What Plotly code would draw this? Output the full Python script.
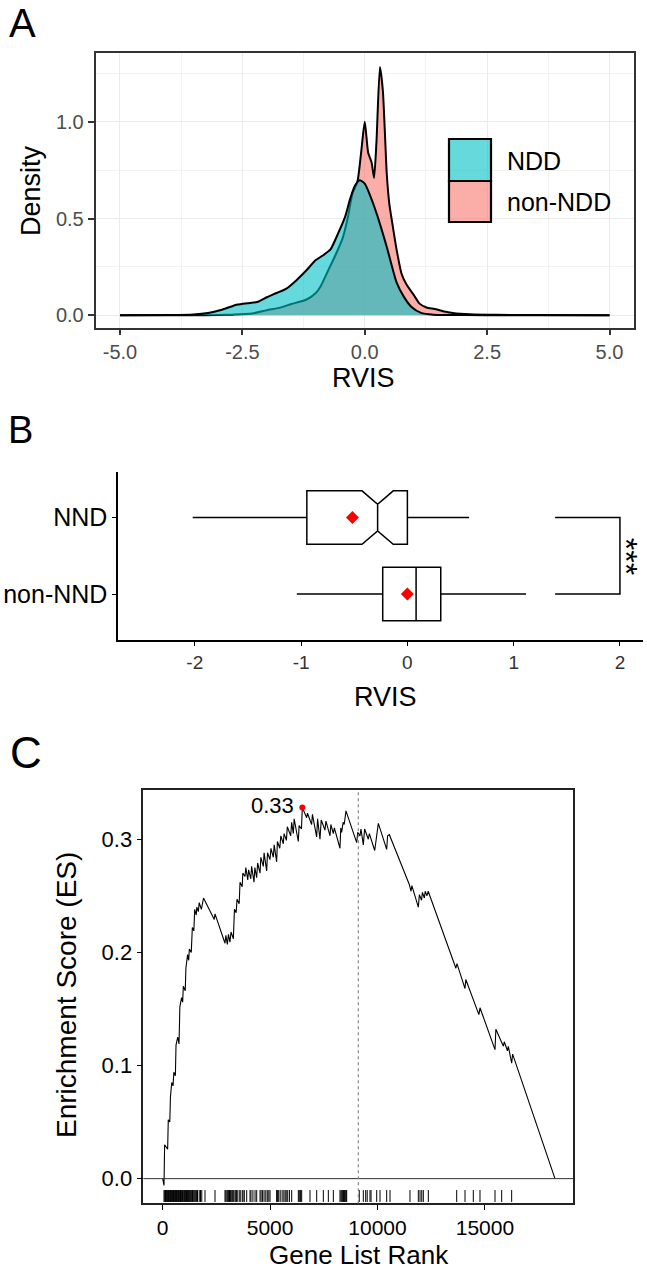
import plotly.graph_objects as go

W, H = 647, 1270
FONT = "Liberation Sans, Arial, Helvetica, sans-serif"

# ---------------- Panel A: density of RVIS ----------------
groups_a = ["NDD", "non-NDD"]
rvis_ndd = [-5.0, -4.0, -3.5, -3.2, -2.9, -2.6, -2.4, -2.2, -2.0, -1.8, -1.6, -1.4, -1.2,
            -1.0, -0.85, -0.7, -0.55, -0.4, -0.3, -0.2, -0.1, 0.0, 0.1, 0.25, 0.45, 0.65,
            0.8, 0.95, 1.15, 1.4, 2.0, 3.0, 4.0, 5.0]
dens_ndd = [0.0, 0.001, 0.004, 0.012, 0.03, 0.055, 0.062, 0.068, 0.093, 0.115, 0.138, 0.18, 0.23,
            0.285, 0.31, 0.34, 0.42, 0.51, 0.60, 0.67, 0.698, 0.68, 0.625, 0.52, 0.353, 0.17,
            0.095, 0.044, 0.012, 0.003, 0.001, 0.0, 0.0, 0.0]
rvis_non = [-5.0, -3.5, -3.0, -2.7, -2.3, -2.0, -1.75, -1.5, -1.2, -1.0, -0.9, -0.75, -0.6,
            -0.45, -0.35, -0.25, -0.15, -0.07, 0.0, 0.07, 0.14, 0.19, 0.24, 0.31, 0.37, 0.45,
            0.5, 0.56, 0.65, 0.75, 0.85, 1.0, 1.12, 1.26, 1.43, 1.6, 1.8, 2.15, 2.7, 3.5, 5.0]
dens_non = [0.0, 0.0, 0.001, 0.003, 0.009, 0.026, 0.038, 0.058, 0.08, 0.115, 0.15, 0.23, 0.31,
            0.40, 0.50, 0.63, 0.69, 0.85, 1.0, 0.84, 0.79, 0.71, 0.90, 1.283, 1.16, 0.73,
            0.58, 0.48, 0.34, 0.216, 0.16, 0.105, 0.06, 0.04, 0.032, 0.021, 0.012, 0.005, 0.002, 0.001, 0.0]
a_xticks = [-5.0, -2.5, 0.0, 2.5, 5.0]
a_xticklabels = ["-5.0", "-2.5", "0.0", "2.5", "5.0"]
a_yticks = [0.0, 0.5, 1.0]
a_yticklabels = ["0.0", "0.5", "1.0"]

# ---------------- Panel B: boxplots ----------------
groups_b = ["NND", "non-NND"]
b_q1 = [-0.946, -0.232]
b_median = [-0.28, 0.082]
b_q3 = [0.0, 0.314]
b_lower = [-2.02, -1.04]
b_upper = [0.58, 1.117]
b_notchspan = [0.147, 0.0]
b_mean = [-0.517, 0.0]
b_bracket_x = [1.39, 2.0]
b_signif = "***"
b_xticks = [-2, -1, 0, 1, 2]
b_xticklabels = ["-2", "-1", "0", "1", "2"]

# ---------------- Panel C: GSEA running enrichment score ----------------
es_rank = [0, 60, 90, 230, 260, 330, 360, 420, 480, 520, 590, 620, 700, 760, 800, 880, 930, 960,
           1050, 1080, 1160, 1210, 1240, 1330, 1380, 1450, 1490, 1560, 1590, 1660, 1700, 1800,
           1900, 2400, 2435, 2900, 2940, 3010, 3060, 3130, 3180, 3290, 3340, 3420, 3460, 3560,
           3600, 3700, 3730, 3831, 3870, 3960, 4000, 4100, 4140, 4250, 4290, 4374, 4420, 4530,
           4570, 4685, 4720, 4840, 4880, 4995, 5040, 5150, 5190, 5305, 5340, 5450, 5500, 5616,
           5650, 5760, 5800, 5960, 6003, 6081, 6120, 6314, 6350, 6460, 6500, 6702, 6740, 6934,
           6970, 7167, 7210, 7322, 7380, 7555, 7600, 7788, 7830, 7943, 7990, 8253, 8290, 8330,
           8400, 8450, 8533, 9030, 9080, 9185, 9230, 9340, 9400, 9573, 9620, 9806, 9870, 10039,
           10427, 10470, 10551, 11480, 11560, 11600, 11900, 11950, 12050, 12090, 12180, 12220,
           12300, 12360, 13650, 13700, 14074, 14110, 14720, 14772, 15470, 15510, 15860, 15900,
           16050, 16090, 16246, 16290, 18262]
es_value = [0.000, -0.006, 0.030, 0.026, 0.052, 0.050, 0.072, 0.085, 0.082, 0.094, 0.091, 0.118,
            0.125, 0.119, 0.152, 0.160, 0.156, 0.170, 0.166, 0.186, 0.198, 0.193, 0.203, 0.200,
            0.222, 0.219, 0.238, 0.233, 0.240, 0.236, 0.244, 0.238, 0.248, 0.229, 0.234, 0.208,
            0.215, 0.207, 0.216, 0.209, 0.218, 0.212, 0.238, 0.235, 0.247, 0.243, 0.262, 0.258,
            0.270, 0.267, 0.275, 0.264, 0.273, 0.265, 0.276, 0.262, 0.275, 0.266, 0.279, 0.270,
            0.284, 0.276, 0.288, 0.272, 0.288, 0.282, 0.292, 0.284, 0.295, 0.280, 0.298, 0.292,
            0.303, 0.296, 0.305, 0.299, 0.311, 0.303, 0.315, 0.305, 0.318, 0.298, 0.312, 0.309,
            0.328, 0.319, 0.323, 0.313, 0.322, 0.302, 0.318, 0.300, 0.317, 0.308, 0.316, 0.303,
            0.313, 0.305, 0.310, 0.292, 0.310, 0.306, 0.315, 0.313, 0.325, 0.297, 0.306, 0.303,
            0.309, 0.295, 0.309, 0.300, 0.305, 0.293, 0.290, 0.314, 0.291, 0.303, 0.304, 0.260,
            0.254, 0.259, 0.240, 0.251, 0.246, 0.253, 0.248, 0.254, 0.250, 0.254, 0.186, 0.190,
            0.168, 0.176, 0.145, 0.151, 0.114, 0.132, 0.117, 0.121, 0.113, 0.117, 0.102, 0.110, 0.000]
hit_rank = [61, 95, 130, 160, 190, 215, 245, 275, 300, 330, 360, 390, 420, 445, 470, 500, 530,
            560, 590, 615, 640, 680, 710, 740, 770, 800, 830, 860, 890, 920, 950, 985, 1020, 1050,
            1080, 1110, 1150, 1180, 1210, 1240, 1280, 1310, 1350, 1390, 1420, 1460, 1500, 1540,
            1580, 1620, 1700, 1760, 1820, 1970, 2435,
            2900, 2940, 2990, 3030, 3070, 3110, 3150, 3190, 3240, 3280, 3320, 3380, 3430, 3470,
            3560, 3610, 3700, 3740, 3800, 3910, 4065, 4110, 4200, 4300, 4376,
            4531, 4580, 4650, 4720, 4800, 4870, 4940, 4997, 5303, 5350, 5400, 5470, 5560, 5640,
            5700, 5750, 5820, 5900, 6005, 6314, 6360, 6420, 6469, 6858, 7169, 7478, 7711, 7944,
            8254, 8300, 8340, 8380, 8420, 8460, 8500, 8540, 8565, 9150, 9339, 9450, 9520, 9650,
            9700, 9962, 10116, 10427, 10582, 11512, 11900, 11980, 12060, 12133, 12366,
            13687, 14074, 14460, 14771, 15470, 15781, 16246]
peak_rank = 6500
peak_es = 0.328
peak_label = "0.33"
zero_cross_rank = 9107
rug_lo, rug_hi = -0.0206, -0.0101
c_xticks = [0, 5000, 10000, 15000]
c_xticklabels = ["0", "5000", "10000", "15000"]
c_yticks = [0.0, 0.1, 0.2, 0.3]


def fx(px):
    return px / W


def fy(py):
    return 1 - py / H


NDD_FILL = "rgba(0,191,196,0.6)"
NON_FILL = "rgba(248,118,109,0.6)"

fig = go.Figure()

# Panel A traces (non-NDD first, NDD drawn on top)
fig.add_trace(go.Scatter(x=rvis_non, y=dens_non, mode="lines", fill="tozeroy",
                         fillcolor=NON_FILL, line=dict(color="black", width=2, shape="spline", smoothing=0.6),
                         name=groups_a[1], xaxis="x", yaxis="y", showlegend=False))
fig.add_trace(go.Scatter(x=rvis_ndd, y=dens_ndd, mode="lines", fill="tozeroy",
                         fillcolor=NDD_FILL, line=dict(color="black", width=2, shape="spline", smoothing=0.6),
                         name=groups_a[0], xaxis="x", yaxis="y", showlegend=False))

# Panel B traces
for i, g in enumerate(groups_b):
    fig.add_trace(go.Box(
        y=[g], q1=[b_q1[i]], median=[b_median[i]], q3=[b_q3[i]],
        lowerfence=[b_lower[i]], upperfence=[b_upper[i]],
        notched=b_notchspan[i] > 0, notchspan=[b_notchspan[i]] if b_notchspan[i] > 0 else None,
        notchwidth=0.25, orientation="h", width=0.7, fillcolor="white",
        line=dict(color="black", width=1.5), whiskerwidth=0, boxpoints=False,
        xaxis="x2", yaxis="y2", showlegend=False, name=g))
fig.add_trace(go.Scatter(x=b_mean, y=groups_b, mode="markers",
                         marker=dict(symbol="diamond", size=10, color="red"),
                         xaxis="x2", yaxis="y2", showlegend=False))
fig.add_trace(go.Scatter(x=[b_bracket_x[0], b_bracket_x[1], b_bracket_x[1], b_bracket_x[0]],
                         y=[groups_b[0], groups_b[0], groups_b[1], groups_b[1]], mode="lines",
                         line=dict(color="black", width=1.5), xaxis="x2", yaxis="y2", showlegend=False))

# Panel C traces
rug_x, rug_y = [], []
for h in hit_rank:
    rug_x += [h, h, None]
    rug_y += [rug_lo, rug_hi, None]
fig.add_trace(go.Scatter(x=rug_x, y=rug_y, mode="lines", line=dict(color="black", width=1),
                         xaxis="x3", yaxis="y3", showlegend=False))
fig.add_trace(go.Scatter(x=es_rank, y=es_value, mode="lines", line=dict(color="black", width=1.1),
                         xaxis="x3", yaxis="y3", showlegend=False))
fig.add_trace(go.Scatter(x=[peak_rank], y=[peak_es], mode="markers",
                         marker=dict(color="red", size=6), xaxis="x3", yaxis="y3", showlegend=False))

shapes = []
# Panel A legend keys
shapes.append(dict(type="rect", xref="paper", yref="paper", x0=fx(449), x1=fx(491), y0=fy(181), y1=fy(139),
                   fillcolor=NDD_FILL, line=dict(color="black", width=2.2)))
shapes.append(dict(type="rect", xref="paper", yref="paper", x0=fx(449), x1=fx(491), y0=fy(222), y1=fy(181),
                   fillcolor=NON_FILL, line=dict(color="black", width=2.2)))
# Panel C reference lines
shapes.append(dict(type="line", xref="x3 domain", yref="y3", x0=0, x1=1, y0=0, y1=0,
                   line=dict(color="#333333", width=1)))
shapes.append(dict(type="line", xref="x3", yref="y3 domain", x0=zero_cross_rank, x1=zero_cross_rank, y0=0, y1=1,
                   line=dict(color="#888888", width=1.2, dash="dot")))

annotations = []


def ann(text, x, y, size, color="black", angle=0, xanchor="center", yref="paper", xref="paper", **kw):
    annotations.append(dict(text=text, x=x, y=y, xref=xref, yref=yref, showarrow=False,
                            xanchor=xanchor, yanchor="middle", textangle=angle,
                            font=dict(family=FONT, size=size, color=color), **kw))


ann("A", fx(7), fy(23.5), 40, xanchor="left")
ann("B", fx(6), fy(430), 38, xanchor="left")
ann("C", fx(8), fy(752), 44, xanchor="left")
ann("Density", fx(31), fy(190), 27, angle=-90)
ann("RVIS", fx(364), fy(378), 27)
ann("NDD", fx(505), fy(161), 25, xanchor="left")
ann("non-NDD", fx(505), fy(201.5), 25, xanchor="left")
ann("RVIS", fx(385), fy(697), 27)
ann(b_signif, fx(646), 0.5, 32, angle=90, yref="y2", xanchor="right")
ann("Gene List Rank", fx(359), fy(1255), 26)
ann("Enrichment Score (ES)", fx(66), fy(995), 28, angle=-90)
ann(peak_label, peak_rank, peak_es, 22, xanchor="right", xref="x3", yref="y3", xshift=-6, yshift=2)

fig.update_layout(
    width=W, height=H, margin=dict(l=0, r=0, t=0, b=0),
    paper_bgcolor="white", plot_bgcolor="white",
    font=dict(family=FONT, color="black"),
    shapes=shapes, annotations=annotations,
    xaxis=dict(domain=[fx(95.5), fx(634)], range=[-5.5, 5.5], anchor="y",
               tickvals=a_xticks, ticktext=a_xticklabels, ticks="outside", ticklen=6, tickwidth=1.5,
               tickcolor="#333333", tickfont=dict(size=20, color="#4D4D4D"),
               showgrid=True, gridcolor="#EBEBEB", gridwidth=1.2, zeroline=False,
               showline=True, mirror=True, linecolor="#333333", linewidth=1.5,
               minor=dict(tickvals=[-3.75, -1.25, 1.25, 3.75], showgrid=True, gridcolor="#F2F2F2", gridwidth=0.7)),
    yaxis=dict(domain=[fy(327.7), fy(53.3)], range=[-0.0645, 1.354], anchor="x",
               tickvals=a_yticks, ticktext=a_yticklabels, ticks="outside", ticklen=6, tickwidth=1.5,
               tickcolor="#333333", tickfont=dict(size=20, color="#4D4D4D"),
               showgrid=True, gridcolor="#EBEBEB", gridwidth=1.2, zeroline=False,
               showline=True, mirror=True, linecolor="#333333", linewidth=1.5,
               minor=dict(tickvals=[0.25, 0.75, 1.25], showgrid=True, gridcolor="#F2F2F2", gridwidth=0.7)),
    xaxis2=dict(domain=[fx(118.3), fx(643)], range=[-2.72, 2.217], anchor="y2",
                tickvals=b_xticks, ticktext=b_xticklabels, ticks="outside", ticklen=4, tickwidth=1.2,
                tickcolor="black", tickfont=dict(size=19, color="#333333"),
                showgrid=False, zeroline=False, showline=True, linecolor="black", linewidth=1.8),
    yaxis2=dict(domain=[fy(640), fy(471.7)], range=[-0.6, 1.6], anchor="x2", type="category",
                categoryorder="array", categoryarray=[groups_b[1], groups_b[0]],
                ticks="outside", ticklen=4, tickwidth=1.2, tickcolor="black",
                tickfont=dict(size=25, color="black"),
                showgrid=False, zeroline=False, showline=True, linecolor="black", linewidth=1.8),
    xaxis3=dict(domain=[fx(143.3), fx(573.3)], range=[-903, 19115], anchor="y3",
                tickvals=c_xticks, ticktext=c_xticklabels, ticks="outside", ticklen=5, tickwidth=1.2,
                tickcolor="black", tickfont=dict(size=21, color="black"),
                showgrid=False, zeroline=False, showline=True, mirror=True, linecolor="#222222", linewidth=1.5),
    yaxis3=dict(domain=[fy(1203.3), fy(790)], range=[-0.0218, 0.3435], anchor="x3",
                tickvals=c_yticks, tickformat=".1f", ticks="outside", ticklen=5, tickwidth=1.2,
                tickcolor="black", tickfont=dict(size=22, color="black"),
                showgrid=False, zeroline=False, showline=True, mirror=True, linecolor="#222222", linewidth=1.5),
)

fig.write_html("out.html", config={"displayModeBar": False},
               post_script="document.body.style.margin='0px';")
